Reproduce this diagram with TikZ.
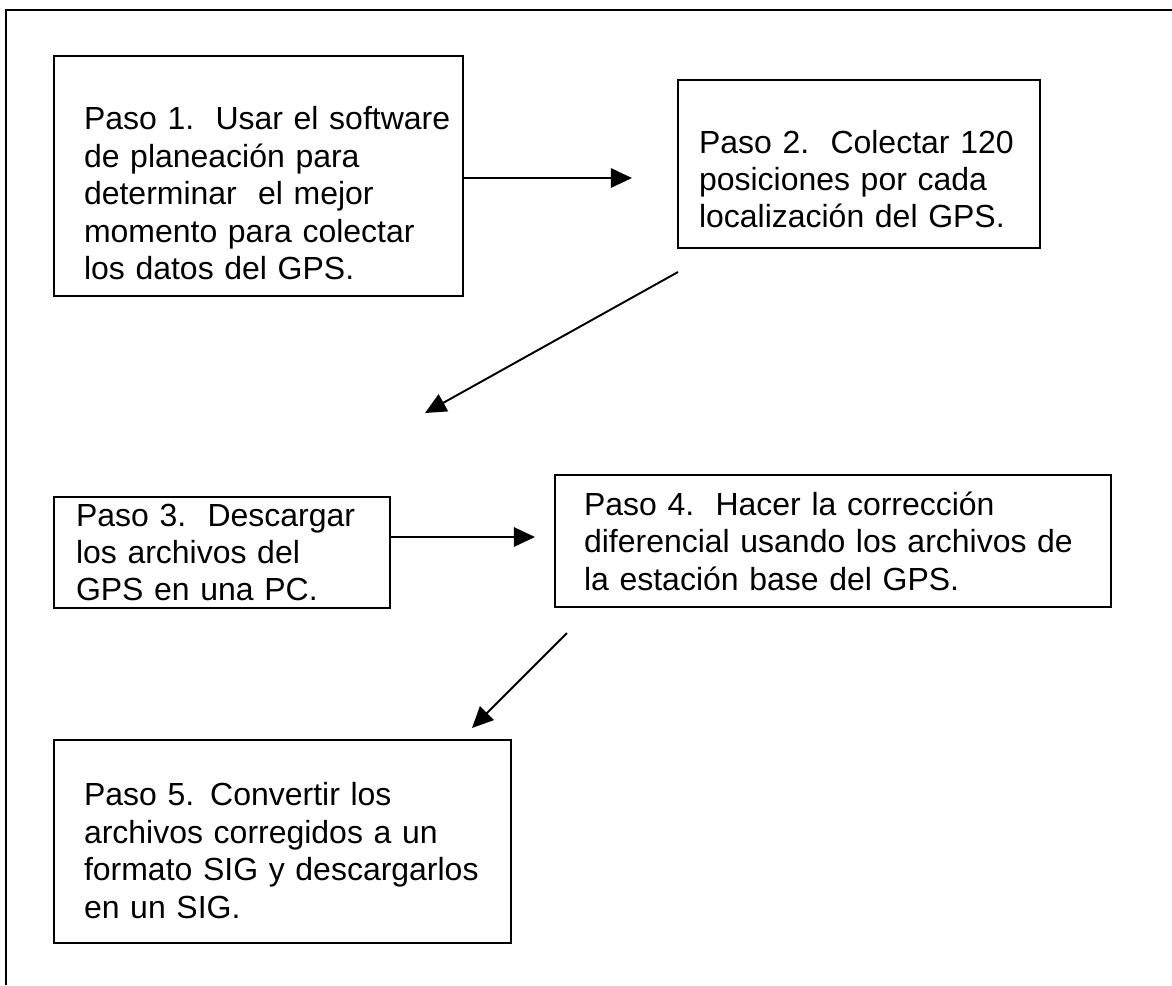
\documentclass[tikz,border=0pt]{standalone}
\usepackage{fontspec}
\setmainfont{Liberation Sans}
\usetikzlibrary{arrows, arrows.meta}
\usetikzlibrary{positioning}
\usetikzlibrary{calc}

\tikzset{
	stepbox/.style={draw, line width=1.1pt, align=left, inner ysep=0pt,
		font=\fontsize{18.2}{21.3}\selectfont},
	flow/.style={-{Triangle[length=12pt, width=11pt]}, line width=1.1pt}
}

\begin{document}
\begin{tikzpicture}[x=0.02cm, y=-0.02cm]
					\useasboundingbox (0,0) rectangle (1172,985);
					%frame
					\draw[line width=1.1pt] (6,985) -- (6,10) -- (1172,10);
					
					% steps
					\node[stepbox, inner xsep=0.6cm, text width=6.98cm, minimum height=4.8cm] (paso1) at (258.5,176) {\rule{0pt}{32.7pt}\mbox{Paso 1.\ \ Usar el software}\\de planeación para\\determinar\ \ el mejor\\momento para colectar\\los datos del GPS.};
					\node[stepbox, inner xsep=0.42cm, text width=6.4cm, minimum height=3.36cm] (paso2) at (859,164) {\rule{0pt}{30.3pt}Paso 2.\ \ Colectar 120\\posiciones por cada\\localización del GPS.};
					\node[stepbox, inner xsep=0.44cm, text width=5.84cm, minimum height=2.22cm] (paso3) at (222,552.5) {Paso 3.\ \ Descargar\\los archivos del\\GPS en una PC.};
					\node[stepbox, inner xsep=0.58cm, text width=9.96cm, minimum height=2.64cm] (paso4) at (833,541) {Paso 4.\ \ Hacer la corrección\\diferencial usando los archivos de\\la estación base del GPS.};
					\node[stepbox, inner xsep=0.6cm, text width=7.94cm, minimum height=4.06cm] (paso5) at (282.5,841.5) {\rule{0pt}{23.5pt}Paso 5. Convertir los\\archivos corregidos a un\\formato SIG y descargarlos\\en un SIG.};
					
					% arrow ends
					\coordinate (a1) at (632,178);
					\coordinate (b2) at (678,272);
					\coordinate (a2) at (425,413);
					\coordinate (b3) at (390,537);
					\coordinate (a3) at (535,537);
					\coordinate (b4) at (567,633);
					\coordinate (a4) at (472,728);
					
					% add arrow
					\draw[flow] (paso1.east |- a1) -- (a1);
					\draw[flow] (b2) -- (a2);
					\draw[flow] (paso3.east |- b3) -- (a3);
					\draw[flow] (b4) -- (a4);
				\end{tikzpicture}
\end{document}
